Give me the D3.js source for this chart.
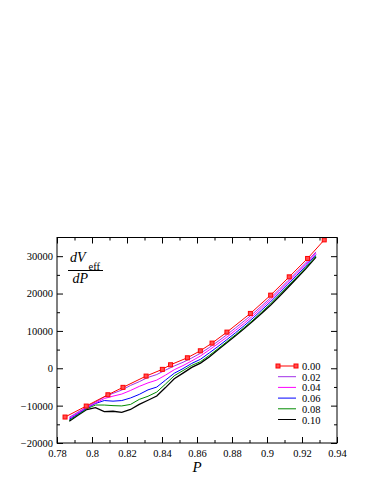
<!DOCTYPE html>
<html lang="en">
<head>
  <meta charset="utf-8">
  <title>dVeff/dP vs P</title>
  <script src="https://d3js.org/d3.v7.min.js"></script>
  <style>
    body { margin: 0; background: #fff; }
    svg text { font-family: "Times New Roman", "Liberation Serif", "DejaVu Serif", serif; fill: #000; }
  </style>
</head>
<body>
<script>
// series 0.00 (red squares)
var pRed = [0.7846, 0.7967, 0.8091, 0.8177, 0.8309, 0.8402, 0.8449, 0.8545, 0.8619,
            0.8686, 0.8771, 0.8905, 0.9021, 0.9127, 0.9232, 0.9327];
var vRed = [-13050, -10110, -7090, -5110, -2090, -290, 940, 2810, 4680,
            6740, 9680, 14680, 19570, 24470, 29390, 34360];

// other series share one P grid
var pGrid = [0.787, 0.792, 0.797, 0.802, 0.807, 0.812, 0.817, 0.822, 0.827, 0.832,
             0.837, 0.842, 0.847, 0.852, 0.857, 0.862, 0.867, 0.872, 0.877, 0.882,
             0.887, 0.892, 0.897, 0.902, 0.907, 0.912, 0.917, 0.922, 0.928];
var v002 = [-13130, -11730, -10300, -9030, -7700, -6710, -5830, -4600, -3590, -2440,
            -1680, -490, 620, 1600, 2750, 4020, 5550, 7220, 8950, 10810,
            12680, 14620, 16730, 18840, 21140, 23480, 25810, 28160, 31150];
var v004 = [-13400, -11950, -10490, -9300, -8110, -7460, -6900, -5940, -4850, -3910,
            -3160, -1830, -390, 720, 1970, 3290, 4910, 6580, 8310, 10170,
            12040, 14030, 16190, 18330, 20660, 23000, 25360, 27730, 30830];
var v006 = [-13670, -12160, -10650, -9430, -8640, -8800, -8640, -7950, -6990, -5780,
            -5030, -3170, -1330, -90, 1300, 2410, 4110, 5830, 7640, 9500,
            11420, 13440, 15600, 17770, 20130, 22490, 24880, 27280, 30420];
var v008 = [-13940, -12400, -10840, -9830, -9840, -10000, -10080, -9680, -8330, -7490,
            -6360, -4230, -2000, -620, 770, 1770, 3440, 5240, 7100, 8970,
            10910, 12910, 15070, 17230, 19620, 22010, 24420, 26850, 30020];
var v010 = [-14200, -12590, -11050, -10550, -11610, -11500, -11820, -11020, -9660, -8560,
            -7430, -5170, -2800, -1290, 230, 1370, 3040, 4970, 6840, 8700,
            10620, 12640, 14750, 16860, 19220, 21610, 24080, 26550, 29760];

var labels = ["0.00", "0.02", "0.04", "0.06", "0.08", "0.10"];
var colors = ["#ff0000", "#a030e8", "#ff00ff", "#0000ff", "#008b00", "#000000"];

var xTicks = [0.78, 0.8, 0.82, 0.84, 0.86, 0.88, 0.9, 0.92, 0.94];
var xTickText = ["0.78", "0.8", "0.82", "0.84", "0.86", "0.88", "0.9", "0.92", "0.94"];
var yTicks = [-20000, -10000, 0, 10000, 20000, 30000];

var W = 387, H = 501;
var mLeft = 57, mRight = 337, mTop = 237.5, mBottom = 443;
var serif = "'Times New Roman', 'Liberation Serif', serif";

var svg = d3.select("body").append("svg")
  .attr("width", W)
  .attr("height", H);

var x = d3.scaleLinear().domain([0.78, 0.94]).range([mLeft, mRight]);
var y = d3.scaleLinear().domain([-20000, 35000]).range([mBottom, mTop]);

var line = d3.line()
  .x(function(d) { return x(d[0]); })
  .y(function(d) { return y(d[1]); });

var series = [
  d3.zip(pRed, vRed),
  d3.zip(pGrid, v002),
  d3.zip(pGrid, v004),
  d3.zip(pGrid, v006),
  d3.zip(pGrid, v008),
  d3.zip(pGrid, v010)
];

// draw black first so red is on top
for (var i = series.length - 1; i >= 0; i--) {
  svg.append("path")
    .attr("d", line(series[i]))
    .attr("fill", "none")
    .attr("stroke", colors[i])
    .attr("stroke-width", i == 5 ? 1.3 : 1);
}

svg.selectAll(".mk")
  .data(series[0])
  .enter()
  .append("rect")
  .attr("class", "mk")
  .attr("x", function(d) { return x(d[0]) - 2; })
  .attr("y", function(d) { return y(d[1]) - 2; })
  .attr("width", 4)
  .attr("height", 4)
  .attr("fill", "#ff5050")
  .attr("stroke", "#ff0000")
  .attr("stroke-width", 1);

// frame and ticks (all pointing inward)
svg.append("rect")
  .attr("x", mLeft).attr("y", mTop)
  .attr("width", mRight - mLeft).attr("height", mBottom - mTop)
  .attr("fill", "none").attr("stroke", "#000").attr("stroke-width", 1);

var xMinor = [0.79, 0.81, 0.83, 0.85, 0.87, 0.89, 0.91, 0.93];
var yMinor = [-15000, -5000, 5000, 15000, 25000];

var axB = d3.axisBottom(x).tickValues(xTicks).tickSize(-6).tickFormat(function(d, i) { return xTickText[i]; });
var axT = d3.axisTop(x).tickValues(xTicks).tickSize(-6).tickFormat("");
var axL = d3.axisLeft(y).tickValues(yTicks).tickSize(-6).tickFormat(d3.format("d"));
var axR = d3.axisRight(y).tickValues(yTicks).tickSize(-6).tickFormat("");

function style(g, fs) {
  g.attr("font-family", null);
  g.select(".domain").remove();
  g.selectAll("line").attr("stroke", "#000");
  g.selectAll("text").attr("font-size", fs || "10.5px");
}

svg.append("g").attr("transform", "translate(0," + mBottom + ")").call(axB)
  .call(function(g) { style(g, "10.5px"); g.selectAll("text").attr("y", 7); });
svg.append("g").attr("transform", "translate(0," + mTop + ")").call(axT).call(style);
svg.append("g").attr("transform", "translate(" + mLeft + ",0)").call(axL)
  .call(function(g) { style(g, "10.5px"); g.selectAll("text").attr("x", -4); });
svg.append("g").attr("transform", "translate(" + mRight + ",0)").call(axR).call(style);

svg.append("g").attr("transform", "translate(0," + mBottom + ")")
  .call(d3.axisBottom(x).tickValues(xMinor).tickSize(-3).tickFormat("")).call(style);
svg.append("g").attr("transform", "translate(0," + mTop + ")")
  .call(d3.axisTop(x).tickValues(xMinor).tickSize(-3).tickFormat("")).call(style);
svg.append("g").attr("transform", "translate(" + mLeft + ",0)")
  .call(d3.axisLeft(y).tickValues(yMinor).tickSize(-3).tickFormat("")).call(style);
svg.append("g").attr("transform", "translate(" + mRight + ",0)")
  .call(d3.axisRight(y).tickValues(yMinor).tickSize(-3).tickFormat("")).call(style);

// axis titles
svg.append("text")
  .attr("x", (mLeft + mRight) / 2)
  .attr("y", 472)
  .attr("text-anchor", "middle")
  .attr("font-size", "15px")
  .attr("font-style", "italic")
  .text("P");

var frac = svg.append("g");
frac.append("text")
  .attr("x", 70).attr("y", 262)
  .attr("font-size", "14px")
  .attr("font-style", "italic")
  .text("dV");
frac.append("text")
  .attr("x", 88.5).attr("y", 270)
  .attr("font-size", "10.5px")
  .text("eff");
frac.append("line")
  .attr("x1", 68).attr("x2", 103)
  .attr("y1", 270.5).attr("y2", 270.5)
  .attr("stroke", "#000").attr("stroke-width", 1);
frac.append("text")
  .attr("x", 72.5).attr("y", 283)
  .attr("font-size", "14px")
  .attr("font-style", "italic")
  .text("dP");

// legend
var leg = svg.append("g").attr("transform", "translate(278,366)");
labels.forEach(function(lb, i) {
  var row = leg.append("g").attr("transform", "translate(0," + (i * 10.7) + ")");
  row.append("line")
    .attr("x1", 0).attr("x2", 18)
    .attr("stroke", colors[i]).attr("stroke-width", 1);
  if (i == 0) {
    [0, 18].forEach(function(px) {
      row.append("rect")
        .attr("x", px - 2).attr("y", -2)
        .attr("width", 4).attr("height", 4)
        .attr("fill", "#ff5050").attr("stroke", "#ff0000");
    });
  }
  row.append("text")
    .attr("x", 24).attr("y", 4)
    .attr("font-size", "10.5px")
    .text(lb);
});
</script>
</body>
</html>
